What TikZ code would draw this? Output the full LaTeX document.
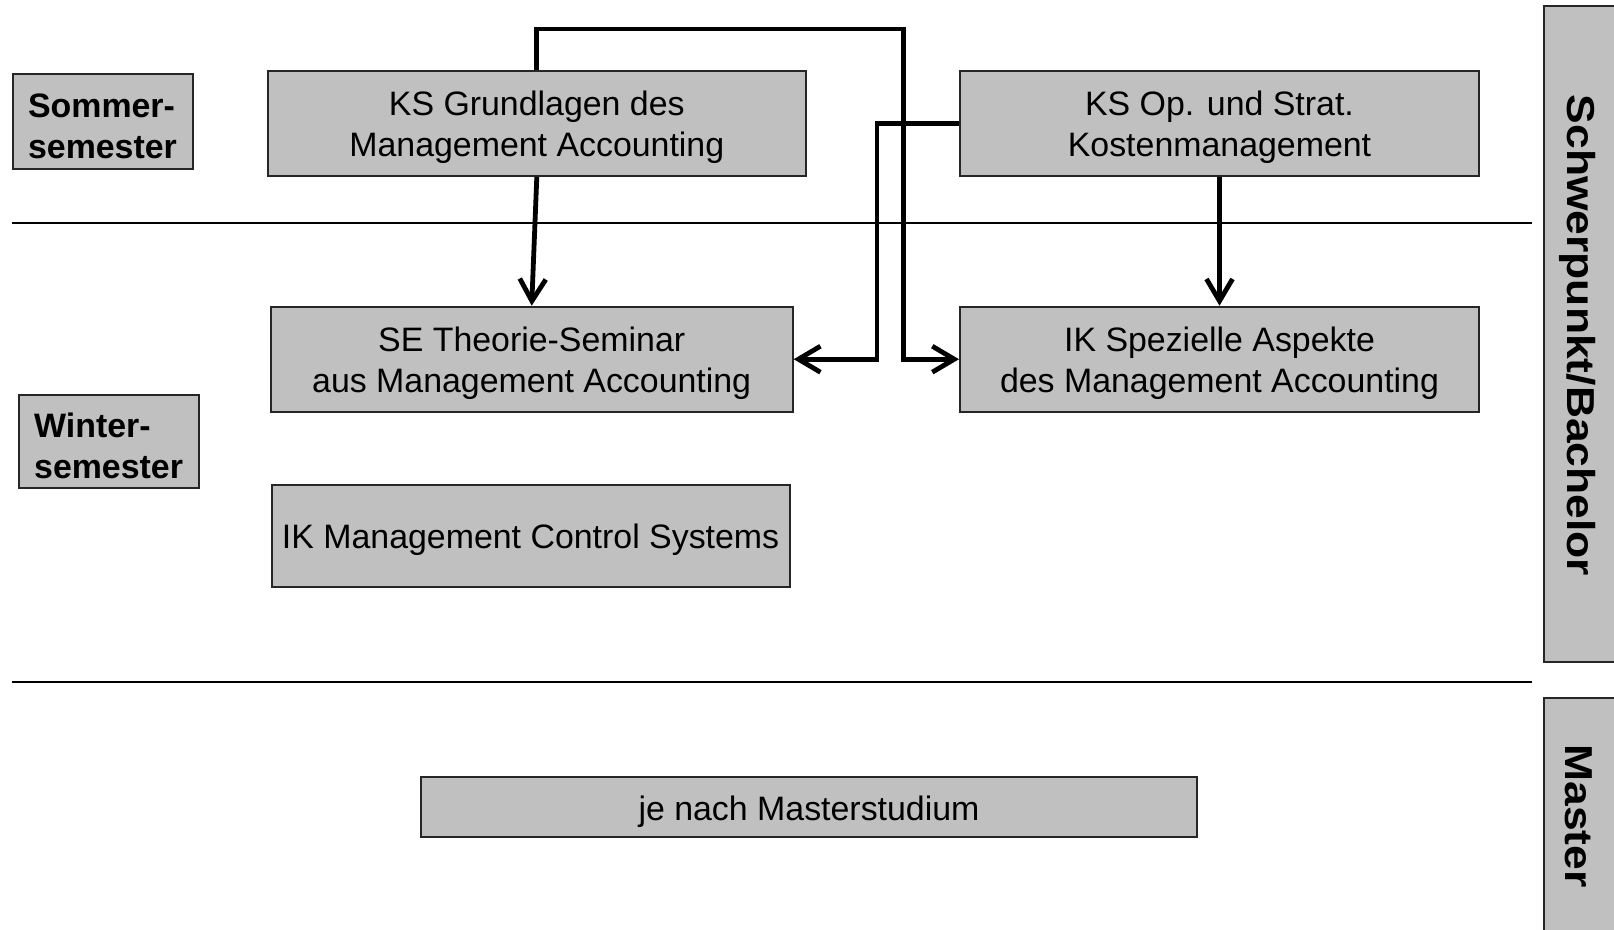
\documentclass[tikz,border=0pt]{standalone}
\usepackage{fontspec}
\setmainfont{Liberation Sans}
\usetikzlibrary{arrows.meta}

\definecolor{boxgray}{RGB}{192,192,192}
\newcommand{\pxu}{0.025cm}

\begin{document}
\begin{tikzpicture}[x=0.025cm, y=-0.025cm,
    course/.style={draw=black!85, fill=boxgray, line width=2*\pxu, align=center,
        inner sep=0pt, text height=52.3pt, font=\fontsize{24.1}{29.1}\selectfont},
    single/.style={text height=23.5pt},
    term/.style={course, align=left, font=\fontsize{24.1}{29.1}\selectfont\bfseries},
    link/.style={line width=4.8*\pxu, -{Straight Barb[length=5.5mm, width=6.5mm]}},
    sepline/.style={line width=2*\pxu},
    sidebar/.style={draw=black!85, fill=boxgray, line width=2*\pxu},
    sidetext/.style={rotate=-90, inner sep=0pt, font=\fontsize{27.7}{33}\selectfont\bfseries}]

    % page size
    \useasboundingbox (0,0) rectangle (1614,929);

    % side bars
    \draw[sidebar] (1544,6) rectangle (1640,662);
    \draw[sidebar] (1544,698) rectangle (1640,960);
    \node[sidetext] (bachelor) at (1578,335.5) {\scalebox{1.14}[1]{Schwerpunkt/Bachelor}};
    \node[sidetext] (masterbar) at (1579,816) {\scalebox{1.14}[1]{Master}};

    % semester lines
    \draw[sepline] (12.4,223.4) -- (1531.6,223.4);
    \draw[sepline] (12.4,682.4) -- (1531.6,682.4);

    % semesters
    \node[term, minimum width=180*\pxu, minimum height=95*\pxu] (sommer) at (102.5,121.5) {Sommer-\\semester};
    \node[term, minimum width=180*\pxu, minimum height=93*\pxu] (winter) at (108.6,441.5) {Winter-\\semester};

    % courses
    \node[course, minimum width=538*\pxu, minimum height=105*\pxu] (grundlagen) at (536.8,123.5) {KS Grundlagen des\\Management Accounting};
    \node[course, minimum width=519*\pxu, minimum height=105*\pxu] (kosten) at (1219.5,123.5) {KS Op. und Strat.\\Kostenmanagement};
    \node[course, minimum width=522*\pxu, minimum height=105*\pxu] (seminar) at (531.7,359.2) {SE Theorie-Seminar\\aus Management Accounting};
    \node[course, minimum width=519*\pxu, minimum height=105*\pxu] (aspekte) at (1219.5,359.2) {IK Spezielle Aspekte\\des Management Accounting};
    \node[course, single, minimum width=518*\pxu, minimum height=102*\pxu] (control) at (530.6,535.8) {IK Management Control Systems};
    \node[course, single, minimum width=776*\pxu, minimum height=60*\pxu] (master) at (809,807) {je nach Masterstudium};

    % arrows
    \coordinate (topbend) at (903.7,29);
    \coordinate (midbend) at (877,359.2);
    \draw[link] (grundlagen.south) -- (seminar.north);
    \draw[link] (kosten.south) -- (aspekte.north);
    \draw[link] (grundlagen.north) |- (topbend) |- (aspekte.west);
    \draw[link] (kosten.west) -| (midbend) -- (seminar.east);

\end{tikzpicture}
\end{document}
